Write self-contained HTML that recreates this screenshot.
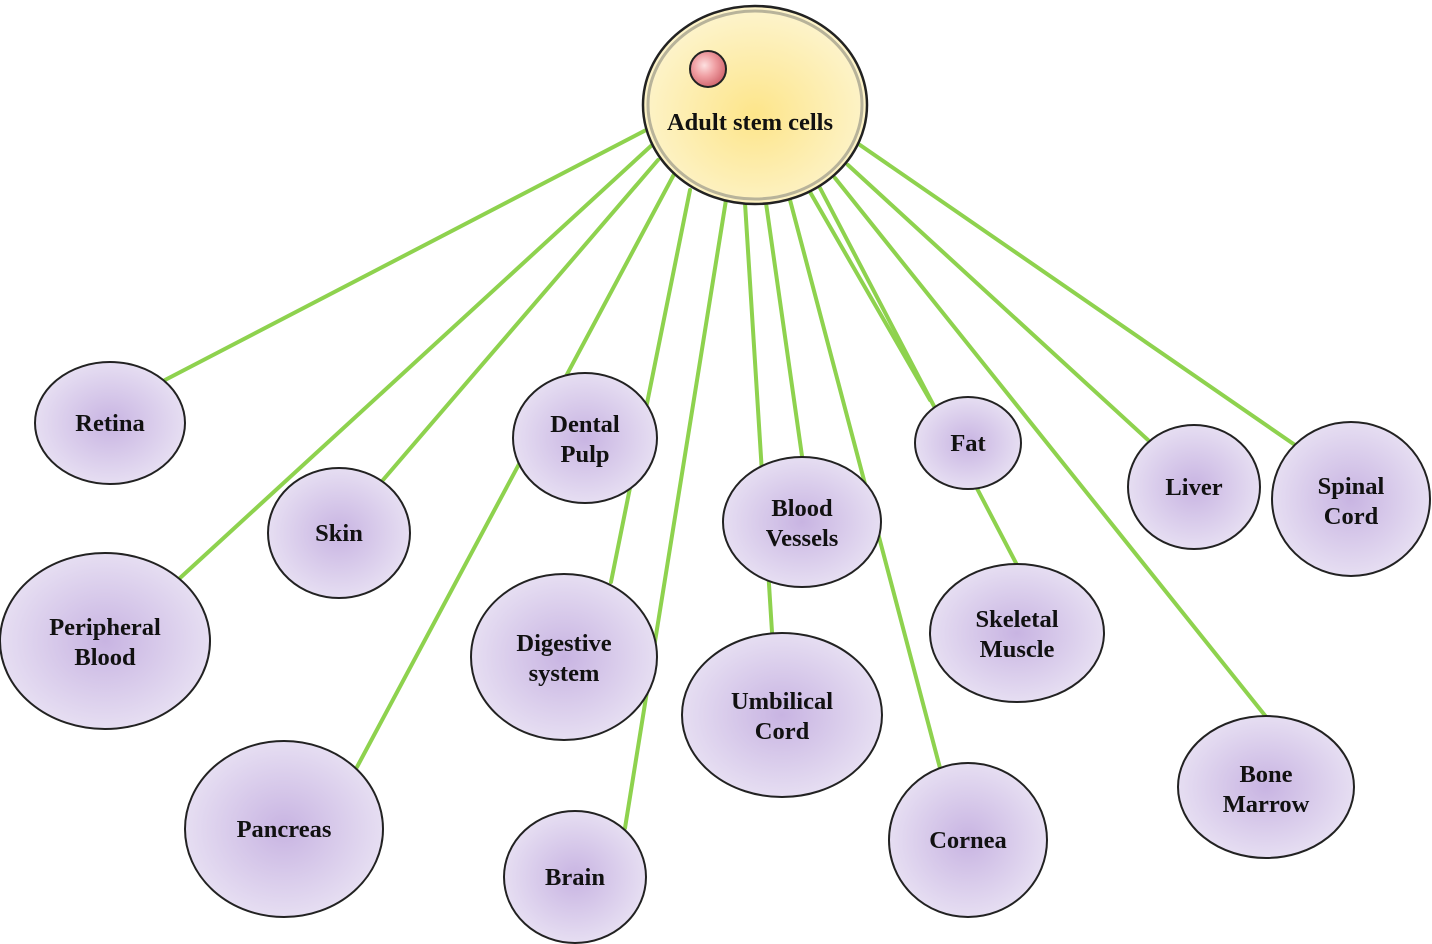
<!DOCTYPE html>
<html><head><meta charset="utf-8"><style>
html,body{margin:0;padding:0;background:#fff;}
svg{display:block;}
text{font-family:"Liberation Serif",serif;font-weight:bold;font-size:24.5px;fill:#111;text-anchor:middle;}
</style></head><body>
<svg width="1432" height="944" viewBox="0 0 1432 944">
<defs>
<radialGradient id="p" cx="50%" cy="50%" r="50%">
<stop offset="0" stop-color="#c8b4e2"/><stop offset="1" stop-color="#e6def2"/>
</radialGradient>
<radialGradient id="y" cx="50%" cy="55%" r="50%">
<stop offset="0" stop-color="#fde58a"/><stop offset="1" stop-color="#fdf3c8"/>
</radialGradient>
<radialGradient id="r" cx="40%" cy="40%" r="60%">
<stop offset="0" stop-color="#fde0e0"/><stop offset="0.5" stop-color="#f0a0a4"/><stop offset="1" stop-color="#d46a72"/>
</radialGradient>
</defs>
<g stroke="#8ed24e" stroke-width="4" stroke-linecap="round">
<line x1="650" y1="128" x2="165" y2="380"/>
<line x1="652" y1="145" x2="180" y2="578"/>
<line x1="658" y1="160" x2="383" y2="480"/>
<line x1="679" y1="165" x2="357" y2="767"/>
<line x1="690" y1="190" x2="611" y2="582"/>
<line x1="726" y1="200" x2="625" y2="828"/>
<line x1="745" y1="203" x2="772" y2="632"/>
<line x1="766" y1="203" x2="802" y2="456"/>
<line x1="790" y1="200" x2="940" y2="768"/>
<line x1="810" y1="192" x2="930" y2="400"/>
<line x1="820" y1="188" x2="1017" y2="565"/>
<line x1="835" y1="178" x2="1267" y2="718"/>
<line x1="848" y1="165" x2="1148" y2="440"/>
<line x1="860" y1="145" x2="1295" y2="445"/>
</g>
<ellipse cx="755" cy="105" rx="112" ry="99" fill="url(#y)" stroke="#222" stroke-width="2.5"/>
<ellipse cx="755" cy="105" rx="107" ry="94" fill="none" stroke="#b8b39a" stroke-width="3"/>
<circle cx="708" cy="69" r="18" fill="url(#r)" stroke="#222" stroke-width="2"/>
<text x="750" y="130">Adult stem cells</text>
<g fill="url(#p)" stroke="#222" stroke-width="2">
<ellipse cx="110" cy="423" rx="75" ry="61"/>
<ellipse cx="339" cy="533" rx="71" ry="65"/>
<ellipse cx="105" cy="641" rx="105" ry="88"/>
<ellipse cx="585" cy="438" rx="72" ry="65"/>
<ellipse cx="564" cy="657" rx="93" ry="83"/>
<ellipse cx="284" cy="829" rx="99" ry="88"/>
<ellipse cx="575" cy="877" rx="71" ry="66"/>
<ellipse cx="802" cy="522" rx="79" ry="65"/>
<ellipse cx="782" cy="715" rx="100" ry="82"/>
<ellipse cx="968" cy="443" rx="53" ry="46"/>
<ellipse cx="1017" cy="633" rx="87" ry="69"/>
<ellipse cx="968" cy="840" rx="79" ry="77"/>
<ellipse cx="1194" cy="487" rx="66" ry="62"/>
<ellipse cx="1351" cy="499" rx="79" ry="77"/>
<ellipse cx="1266" cy="787" rx="88" ry="71"/>
</g>
<text x="110" y="431">Retina</text>
<text x="339" y="541">Skin</text>
<text x="105" y="635">Peripheral</text><text x="105" y="665">Blood</text>
<text x="585" y="432">Dental</text><text x="585" y="462">Pulp</text>
<text x="564" y="651">Digestive</text><text x="564" y="681">system</text>
<text x="284" y="837">Pancreas</text>
<text x="575" y="885">Brain</text>
<text x="802" y="516">Blood</text><text x="802" y="546">Vessels</text>
<text x="782" y="709">Umbilical</text><text x="782" y="739">Cord</text>
<text x="968" y="451">Fat</text>
<text x="1017" y="627">Skeletal</text><text x="1017" y="657">Muscle</text>
<text x="968" y="848">Cornea</text>
<text x="1194" y="495">Liver</text>
<text x="1351" y="494">Spinal</text><text x="1351" y="524">Cord</text>
<text x="1266" y="782">Bone</text><text x="1266" y="812">Marrow</text>
</svg>
</body></html>
